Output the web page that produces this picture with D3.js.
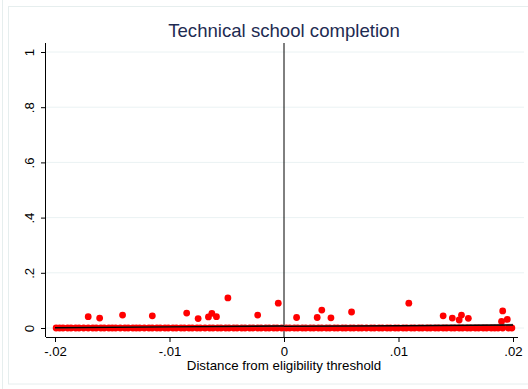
<!DOCTYPE html>
<html>
<head>
<meta charset="utf-8">
<script src="https://cdn.jsdelivr.net/npm/d3@7"></script>
<style>
  body { margin: 0; background: #fff; }
  svg { display: block; font-family: "Liberation Sans", Arial, sans-serif; }
</style>
</head>
<body>
<div class="chart"></div>
<script>
// points with a positive outcome share
const posX = [-0.0171, -0.0161, -0.0141, -0.0115, -0.0085, -0.0075, -0.0066, -0.0063, -0.0059, -0.0049, -0.0023,
              -0.0005, 0.0011, 0.0029, 0.0033, 0.0041, 0.0059, 0.0109, 0.0139, 0.0147, 0.0153, 0.0155, 0.0161,
              0.0190, 0.0191, 0.0195];
const posY = [0.041, 0.036, 0.047, 0.044, 0.054, 0.034, 0.040, 0.053, 0.041, 0.109, 0.047,
              0.090, 0.038, 0.038, 0.065, 0.037, 0.058, 0.090, 0.044, 0.036, 0.029, 0.047, 0.035,
              0.024, 0.062, 0.031];
// points sitting at zero
const zeroX = [-0.0199, -0.0196, -0.0193, -0.0189, -0.0186, -0.0182, -0.0179, -0.0175, -0.0171, -0.0167,
               -0.0164, -0.0160, -0.0157, -0.0153, -0.0150, -0.0147, -0.0143, -0.0139, -0.0136, -0.0132,
               -0.0129, -0.0126, -0.0122, -0.0118, -0.0115, -0.0111, -0.0108, -0.0104, -0.0101, -0.0097,
               -0.0094, -0.0090, -0.0087, -0.0083, -0.0080, -0.0076, -0.0073, -0.0069, -0.0065, -0.0062,
               -0.0058, -0.0055, -0.0051, -0.0048, -0.0044, -0.0041, -0.0037, -0.0034, -0.0030, -0.0027,
               -0.0023, -0.0020, -0.0016, -0.0013, -0.0009, -0.0006, -0.0002,
               0.0002, 0.0005, 0.0009, 0.0012, 0.0016, 0.0019, 0.0023, 0.0026, 0.0030, 0.0033,
               0.0037, 0.0040, 0.0044, 0.0047, 0.0051, 0.0054, 0.0058, 0.0061, 0.0065, 0.0068,
               0.0072, 0.0076, 0.0079, 0.0083, 0.0086, 0.0090, 0.0093, 0.0097, 0.0100, 0.0104,
               0.0107, 0.0111, 0.0114, 0.0118, 0.0121, 0.0125, 0.0128, 0.0132, 0.0135, 0.0139,
               0.0142, 0.0146, 0.0149, 0.0153, 0.0156, 0.0160, 0.0163, 0.0167, 0.0170, 0.0174,
               0.0177, 0.0181, 0.0184, 0.0187, 0.0191, 0.0196, 0.0199];
// local fits on each side of the threshold
const fitLeftX = [-0.02, -0.01, 0];
const fitLeftY = [0.001, 0.004, 0.007];
const fitLeftLo = [-0.002, 0.002, 0.003];
const fitLeftHi = [0.004, 0.006, 0.011];
const fitRightX = [0, 0.01, 0.02];
const fitRightY = [0.006, 0.008, 0.011];
const fitRightLo = [0.002, 0.006, 0.007];
const fitRightHi = [0.010, 0.010, 0.016];

const xTicks = [-0.02, -0.01, 0, 0.01, 0.02];
const xTickLabels = ["-.02", "-.01", "0", ".01", ".02"];
const yTicks = [0, 0.2, 0.4, 0.6, 0.8, 1];
const yTickLabels = ["0", ".2", ".4", ".6", ".8", "1"];

const width = 528, height = 389;
const plot = {left: 46, right: 520, top: 43, bottom: 337};

const svg = d3.select(".chart").append("svg")
    .attr("width", width)
    .attr("height", height);

// graph region frame
svg.append("line").attr("x1", 2.5).attr("x2", 2.5).attr("y1", 0).attr("y2", height)
    .attr("stroke", "#e6eeee");
svg.append("rect").attr("x", 8.5).attr("y", 6.5).attr("width", width).attr("height", 377.5)
    .attr("fill", "none").attr("stroke", "#e6eeee");

const x = d3.scaleLinear().domain([-0.02, 0.02]).range([55, 513]);
const y = d3.scaleLinear().domain([0, 1]).range([328, 52]);

// gridlines
svg.append("g").selectAll("line")
    .data(yTicks)
    .enter().append("line")
    .attr("x1", plot.left).attr("x2", 524)
    .attr("y1", d => y(d)).attr("y2", d => y(d))
    .attr("stroke", "#eaf2f3");

svg.append("text")
    .attr("x", 284).attr("y", 37)
    .attr("text-anchor", "middle")
    .attr("font-size", 18.6)
    .attr("fill", "#1e2b52")
    .text("Technical school completion");

// threshold line
svg.append("line")
    .attr("x1", x(0)).attr("x2", x(0))
    .attr("y1", plot.top).attr("y2", plot.bottom)
    .attr("stroke", "#000").attr("stroke-width", 1);

// dots
svg.append("g").selectAll("circle")
    .data(zeroX)
    .enter().append("circle")
    .attr("cx", d => x(d)).attr("cy", y(0)).attr("r", 3.4)
    .attr("fill", "#ff0000");
svg.append("g").selectAll("circle")
    .data(posX)
    .enter().append("circle")
    .attr("cx", d => x(d)).attr("cy", (d, i) => y(posY[i])).attr("r", 3.4)
    .attr("fill", "#ff0000");

// fits with bands
const area = d3.area().x(d => x(d[0])).y0(d => y(d[1])).y1(d => y(d[2]));
const line = d3.line().x(d => x(d[0])).y(d => y(d[1]));
[[fitLeftX, fitLeftY, fitLeftLo, fitLeftHi], [fitRightX, fitRightY, fitRightLo, fitRightHi]].forEach(f => {
  const pts = f[0].map((v, i) => [v, f[1][i], f[2][i], f[3][i]]);
  svg.append("path")
      .attr("d", area(pts.map(p => [p[0], p[2], p[3]])))
      .attr("fill", "#888").attr("fill-opacity", 0.4);
  svg.append("path")
      .attr("d", line(pts))
      .attr("fill", "none").attr("stroke", "#000").attr("stroke-width", 1.4);
});

// axes
const xAxis = svg.append("g")
    .attr("transform", `translate(0,${plot.bottom})`)
    .call(d3.axisBottom(x).tickValues(xTicks).tickSize(5).tickPadding(5)
      .tickFormat((d, i) => xTickLabels[i]));
xAxis.select(".domain").remove();
xAxis.selectAll("text").attr("font-size", 13.2).attr("fill", "#000")
    .attr("font-family", "Liberation Sans, Arial, sans-serif");
svg.append("line").attr("x1", plot.left).attr("x2", 518)
    .attr("y1", plot.bottom + 0.5).attr("y2", plot.bottom + 0.5)
    .attr("stroke", "#000");

const yAxis = svg.append("g")
    .attr("transform", `translate(${plot.left},0)`)
    .call(d3.axisLeft(y).tickValues(yTicks).tickSize(5)
      .tickFormat((d, i) => yTickLabels[i]));
yAxis.select(".domain").remove();
yAxis.selectAll("text")
    .attr("font-size", 13.2).attr("fill", "#000")
    .attr("font-family", "Liberation Sans, Arial, sans-serif")
    .attr("transform", "rotate(-90)")
    .attr("x", 0).attr("y", -12.5).attr("dy", 0)
    .attr("text-anchor", "middle");
svg.append("line").attr("x1", plot.left - 0.5).attr("x2", plot.left - 0.5)
    .attr("y1", plot.top).attr("y2", plot.bottom)
    .attr("stroke", "#000");

svg.append("text")
    .attr("x", 284).attr("y", 370)
    .attr("text-anchor", "middle")
    .attr("font-size", 13.3)
    .attr("fill", "#000")
    .text("Distance from eligibility threshold");
</script>
</body>
</html>
